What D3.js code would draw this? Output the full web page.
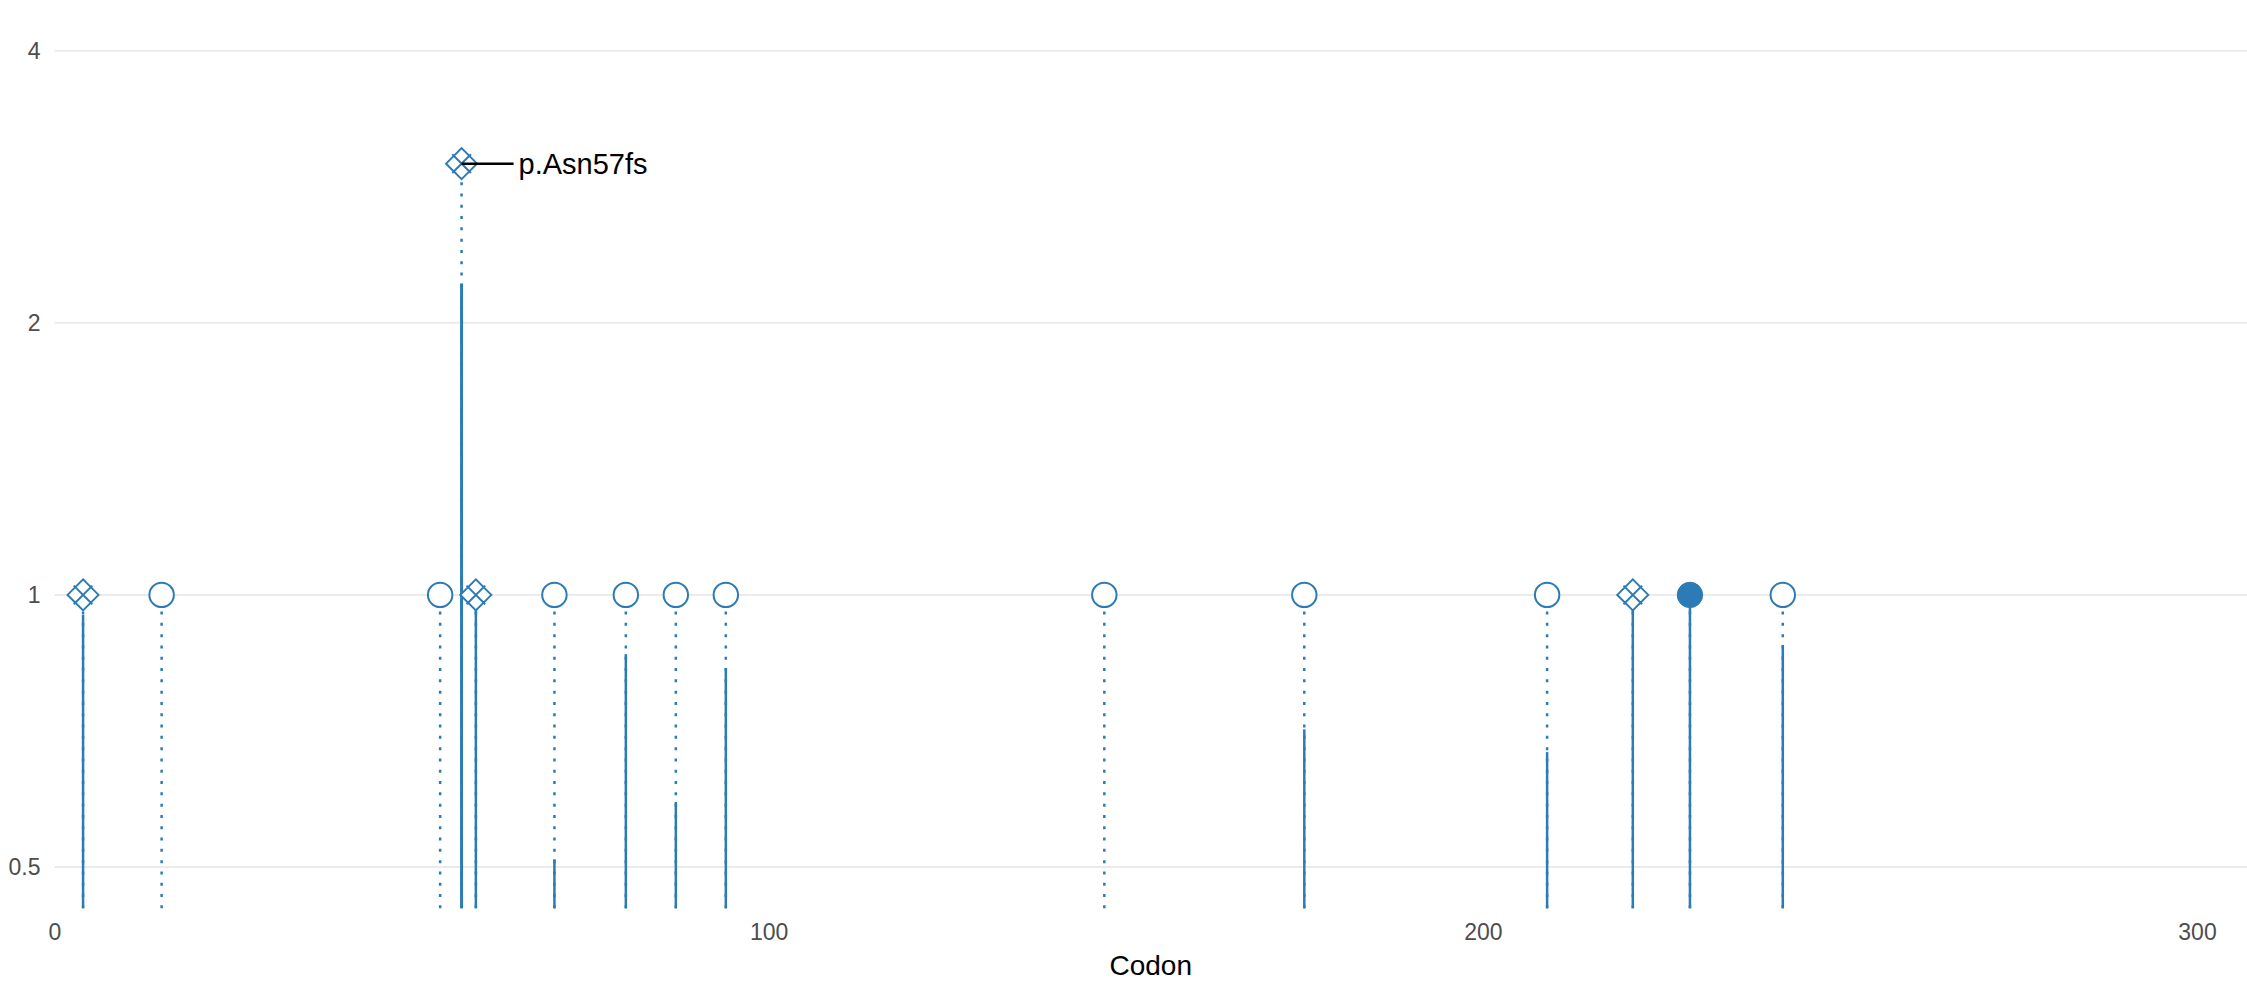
<!DOCTYPE html>
<html>
<head>
<meta charset="utf-8">
<script src="https://cdn.jsdelivr.net/npm/d3@7"></script>
<style>
  html, body { margin: 0; padding: 0; background: #ffffff; }
  svg { display: block; }
  text { font-family: "Liberation Sans", Arial, Helvetica, sans-serif; }
</style>
</head>
<body>
<script>
// ---- data ----
const codons       = [4, 15, 54, 57, 59, 70, 80, 87, 94, 147, 175, 209, 221, 229, 242];
const markerValues = [1, 1, 1, 3, 1, 1, 1, 1, 1, 1, 1, 1, 1, 1, 1];
const solidValues  = [0.95, null, null, 2.21, 0.97, 0.51, 0.86, 0.59, 0.83, null, 0.71, 0.67, 0.97, 1, 0.88];
const shapes       = ["diamond-x", "circle-open", "circle-open", "diamond-x", "diamond-x", "circle-open",
                      "circle-open", "circle-open", "circle-open", "circle-open", "circle-open", "circle-open",
                      "diamond-x", "circle", "circle-open"];
const labels       = ["", "", "", "p.Asn57fs", "", "", "", "", "", "", "", "", "", "", ""];
const stemBase     = 0.45;
const xTicks       = [0, 100, 200, 300];
const yTicks       = [0.5, 1, 2, 4];
const xDomain      = [0, 307];
const xTitle       = "Codon";

// ---- layout ----
const W = 2247, H = 986;
const left = 54.5, right = 2247;
const blue = "#2c7bb6";

const svg = d3.select("body").append("svg").attr("width", W).attr("height", H);

const x = d3.scaleLinear().domain(xDomain).range([left, right]);
const y = d3.scaleLog().base(2).domain([0.5, 4]).range([867, 50.7]);

// gridlines
svg.append("g").selectAll("line").data(yTicks).join("line")
  .attr("x1", left).attr("x2", right)
  .attr("y1", d => y(d)).attr("y2", d => y(d))
  .attr("stroke", "#ebebeb").attr("stroke-width", 2);

// y axis
const yAxis = svg.append("g").attr("transform", `translate(${left},0)`)
  .call(d3.axisLeft(y).tickValues(yTicks).tickSize(0).tickPadding(14).tickFormat(d3.format("~g")));
yAxis.select(".domain").remove();
yAxis.selectAll("text").attr("font-size", 23).attr("fill", "#4d4d4d")
  .attr("font-family", "'Liberation Sans', Arial, sans-serif");

// x axis
const xAxis = svg.append("g").attr("transform", `translate(0,${y(stemBase)})`)
  .call(d3.axisBottom(x).tickValues(xTicks).tickSize(0).tickPadding(15).tickFormat(d3.format("d")));
xAxis.select(".domain").remove();
xAxis.selectAll("text").attr("font-size", 23).attr("fill", "#4d4d4d")
  .attr("font-family", "'Liberation Sans', Arial, sans-serif");

// x title
svg.append("text")
  .attr("x", (left + right) / 2).attr("y", 975)
  .attr("text-anchor", "middle").attr("font-size", 28).attr("fill", "#000")
  .text(xTitle);

const data = codons.map((c, i) => ({
  codon: c, value: markerValues[i], solid: solidValues[i], shape: shapes[i], label: labels[i]
}));

// dotted stems
svg.append("g").selectAll("line").data(data).join("line")
  .attr("x1", d => x(d.codon)).attr("x2", d => x(d.codon))
  .attr("y1", y(stemBase)).attr("y2", d => y(d.value))
  .attr("stroke", blue).attr("stroke-width", 2.5)
  .attr("stroke-dasharray", "3,8.3");

// solid stems
svg.append("g").selectAll("line").data(data.filter(d => d.solid != null)).join("line")
  .attr("x1", d => x(d.codon)).attr("x2", d => x(d.codon))
  .attr("y1", y(stemBase)).attr("y2", d => y(d.solid))
  .attr("stroke", blue).attr("stroke-width", d => d.value > 1.5 ? 3 : 2.5);

const labelled = data.filter(d => d.label);

// markers
const rd = 15.5, r2 = rd * 0.6;
const diamondX = `M${rd},0L0,${rd}L${-rd},0L0,${-rd}Z` +
                 `M${-r2},${-r2}L${r2},${r2}M${-r2},${r2}L${r2},${-r2}`;
const mk = svg.append("g").selectAll("g").data(data).join("g")
  .attr("transform", d => `translate(${x(d.codon)},${y(d.value)})`);
mk.filter(d => d.shape === "diamond-x").append("path")
  .attr("d", diamondX).attr("fill", "#fff").attr("stroke", blue).attr("stroke-width", 2);
mk.filter(d => d.shape === "circle-open").append("circle")
  .attr("r", 12.2).attr("fill", "#fff").attr("stroke", blue).attr("stroke-width", 2);
mk.filter(d => d.shape === "circle").append("circle")
  .attr("r", 12.7).attr("fill", blue).attr("stroke", blue).attr("stroke-width", 1);

// label connectors (start at marker center)
svg.append("g").selectAll("line").data(labelled).join("line")
  .attr("x1", d => x(d.codon)).attr("x2", d => x(d.codon) + 52)
  .attr("y1", d => y(d.value)).attr("y2", d => y(d.value))
  .attr("stroke", "#000").attr("stroke-width", 2.5);

// labels
svg.append("g").selectAll("text").data(labelled).join("text")
  .attr("x", d => x(d.codon) + 57).attr("y", d => y(d.value) + 10)
  .attr("font-size", 29).attr("fill", "#000")
  .text(d => d.label);
</script>
</body>
</html>
